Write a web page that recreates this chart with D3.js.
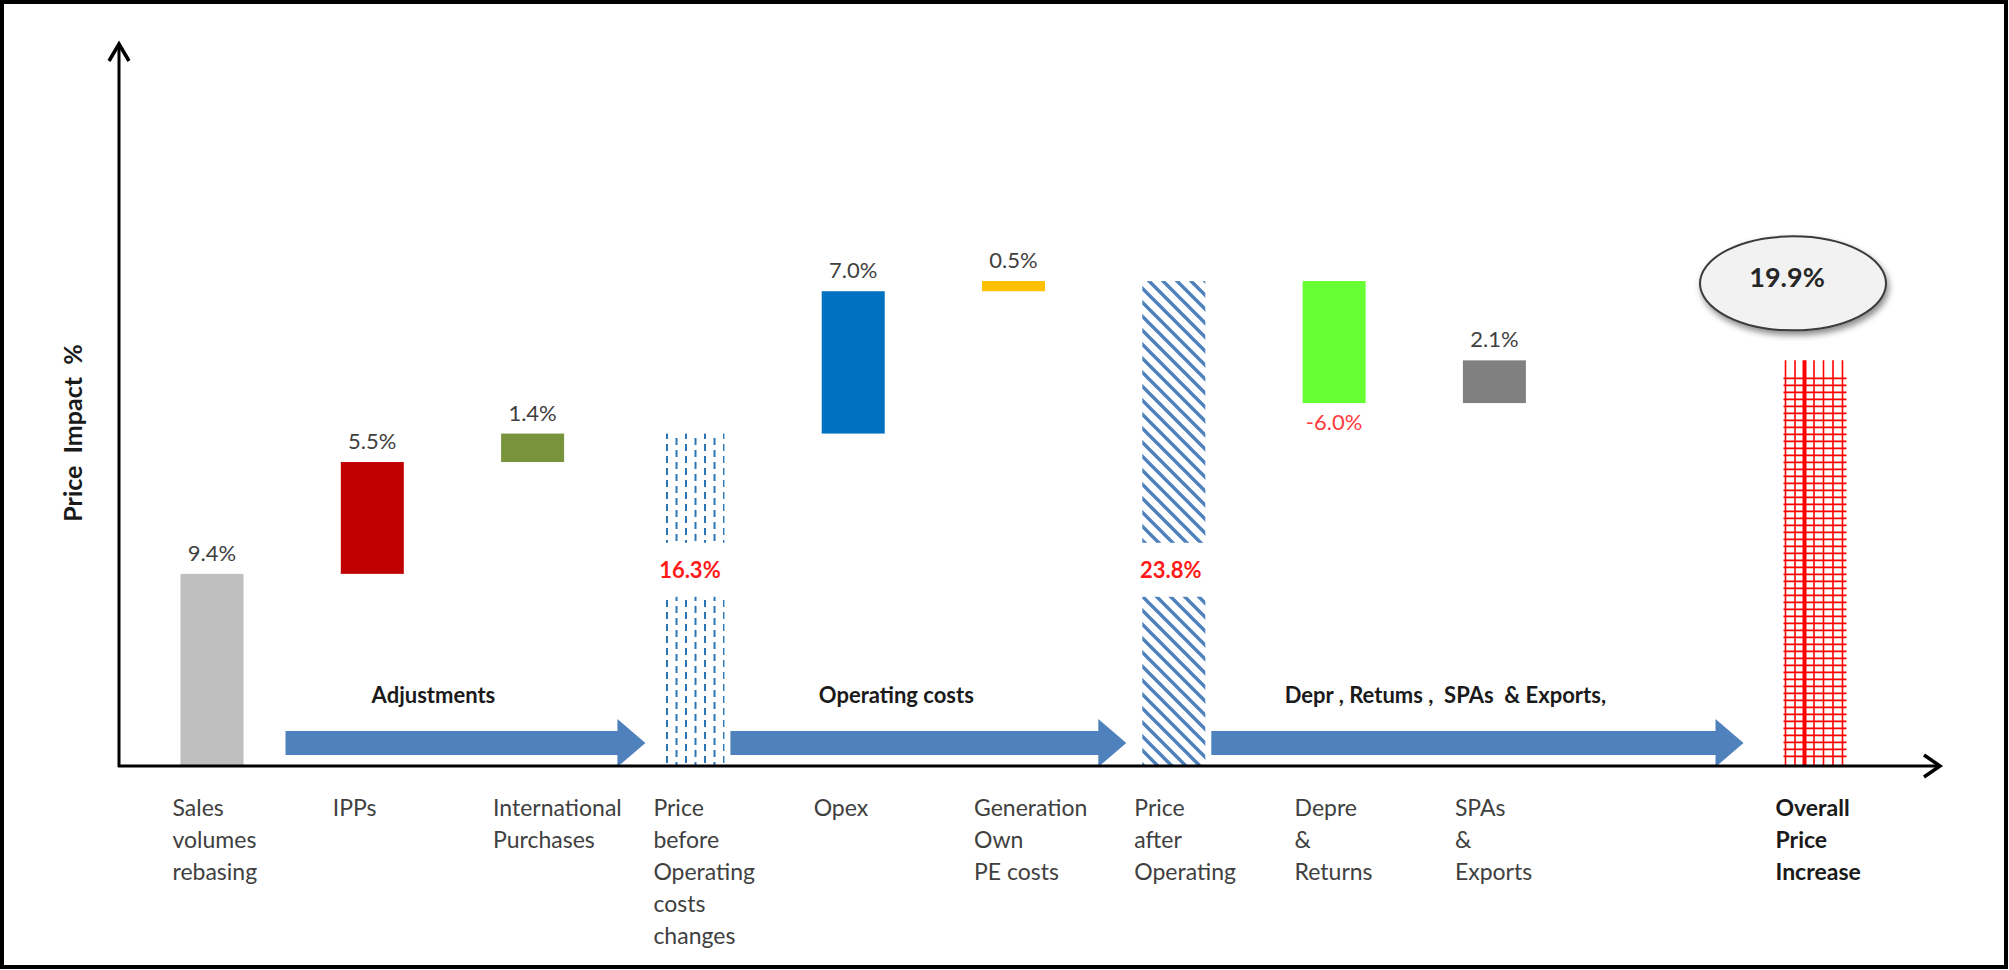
<!DOCTYPE html>
<html>
<head>
<meta charset="utf-8">
<script src="https://cdn.jsdelivr.net/npm/d3@7/dist/d3.min.js"></script>
<style>
body { margin: 0; background: #fff; }
text { font-family: Lato, "Open Sans", sans-serif; }
</style>
</head>
<body>
<svg id="svg"></svg>
<script>
var width = 2009, height = 970;

// chart data
var categories = [
	["Sales", "volumes", "rebasing"],
	["IPPs"],
	["International", "Purchases"],
	["Price", "before", "Operating", "costs", "changes"],
	["Opex"],
	["Generation", "Own", "PE costs"],
	["Price", "after", "Operating"],
	["Depre", "&", "Returns"],
	["SPAs", "&", "Exports"],
	["Overall", "Price", "Increase"]
];
var kinds = ["step", "step", "step", "subtotal", "step", "step", "subtotal", "step", "step", "total"];
var values = [9.4, 5.5, 1.4, null, 7.0, 0.5, null, -6.0, 2.1, null];
var fills = ["#bfbfbf", "#c00000", "#77933c", "url(#dashVert)", "#0070c0", "#ffc000", "url(#diagHatch)", "#66ff33", "#808080", "grid"];
var phases = [
	{ label: "Adjustments", from: 0, to: 3 },
	{ label: "Operating costs", from: 3, to: 6 },
	{ label: "Depr , Retums ,  SPAs  & Exports,", from: 6, to: 9 }
];
var labelLevel = 9.6;   // level where the subtotal labels sit

var svg = d3.select("#svg")
	.attr("width", width)
	.attr("height", height);

var fmt = function(v) { return v.toFixed(1) + "%"; };

// waterfall
var running = 0;
var bars = values.map(function(v, i)
{
	var b = { i: i, kind: kinds[i], fill: fills[i], lines: categories[i] };
	if (kinds[i] == "step") {
		b.y0 = running; b.y1 = running + v; b.v = v; running = b.y1;
	} else {
		b.y0 = 0; b.y1 = running; b.v = running;
	}
	return b;
});

// one empty slot before the total
var slot = function(i) { return i < 9 ? i : i + 1; };
var x = d3.scalePoint()
	.domain(d3.range(11))
	.range([212, 1815]);
var bw = 63;

var y = d3.scaleLinear()
	.domain([0, 30])
	.range([765, 155]);

var defs = svg.append("defs");

var p1 = defs.append("pattern").attr("id", "dashVert")
	.attr("patternUnits", "userSpaceOnUse")
	.attr("width", 19).attr("height", 12);
p1.append("rect").attr("x", 1).attr("y", 0).attr("width", 2).attr("height", 7).attr("fill", "#2e75b6");
p1.append("rect").attr("x", 10.5).attr("y", 6).attr("width", 2).attr("height", 6).attr("fill", "#2e75b6");
p1.append("rect").attr("x", 10.5).attr("y", 0).attr("width", 2).attr("height", 1).attr("fill", "#2e75b6");

var p2 = defs.append("pattern").attr("id", "diagHatch")
	.attr("patternUnits", "userSpaceOnUse")
	.attr("width", 14).attr("height", 14);
p2.append("path")
	.attr("d", "M-2,-2 L16,16 M-9,5 L5,19 M5,-9 L19,5")
	.attr("stroke", "#4f81bd")
	.attr("stroke-width", 3.4);

var shadow = defs.append("filter").attr("id", "shadow")
	.attr("x", "-20%").attr("y", "-20%").attr("width", "140%").attr("height", "150%");
shadow.append("feDropShadow")
	.attr("dx", 2).attr("dy", 4).attr("stdDeviation", 3)
	.attr("flood-color", "#000").attr("flood-opacity", 0.45);

// frame
svg.append("rect")
	.attr("x", 2).attr("y", 2)
	.attr("width", width - 5).attr("height", height - 5)
	.attr("fill", "none")
	.attr("stroke", "#000")
	.attr("stroke-width", 4);

// bars
var bar = svg.selectAll(".bar")
	.data(bars)
	.enter()
	.append("g")
	.attr("class", "bar");

bar.filter(function(d) { return d.fill != "grid"; })
	.append("rect")
	.attr("x", function(d) { return x(slot(d.i)) - bw / 2; })
	.attr("y", function(d) { return y(Math.max(d.y0, d.y1)); })
	.attr("width", bw)
	.attr("height", function(d) { return Math.abs(y(d.y0) - y(d.y1)); })
	.style("fill", function(d) { return d.fill; });

// gap in the subtotal bars for their label
var sub = bar.filter(function(d) { return d.kind == "subtotal"; });
sub.append("rect")
	.attr("x", function(d) { return x(slot(d.i)) - bw / 2 - 1; })
	.attr("y", y(labelLevel) - 27)
	.attr("width", bw + 2)
	.attr("height", 54)
	.style("fill", "#fff");
sub.append("text")
	.attr("x", function(d) { return x(slot(d.i)) - 3; })
	.attr("y", y(labelLevel) + 8)
	.attr("text-anchor", "middle")
	.style("font-size", "22px")
	.style("font-weight", "bold")
	.style("fill", "#ff1a1a")
	.text(function(d) { return fmt(d.v); });

// step labels
bar.filter(function(d) { return d.kind == "step"; })
	.append("text")
	.attr("x", function(d) { return x(slot(d.i)); })
	.attr("y", function(d) { return d.v >= 0 ? y(d.y1) - 13 : y(d.y1) + 27; })
	.attr("text-anchor", "middle")
	.style("font-size", "22px")
	.style("fill", function(d) { return d.v >= 0 ? "#404040" : "#ff3b3b"; })
	.text(function(d) { return fmt(d.v); });

// total: red grid bar
var tot = bars[9];
var tx0 = x(slot(9)) - bw / 2, tTop = y(tot.y1), tBot = y(0);
var grid = svg.append("g").attr("class", "grid");
grid.selectAll(".v")
	.data(d3.range(7))
	.enter()
	.append("line")
	.attr("x1", function(d) { return tx0 + 2 + d * 9.5; })
	.attr("x2", function(d) { return tx0 + 2 + d * 9.5; })
	.attr("y1", tTop)
	.attr("y2", tBot)
	.attr("stroke", "#ff0000")
	.attr("stroke-width", function(d) { return d == 2 ? 4 : 1.6; });
grid.selectAll(".h")
	.data(d3.range(tTop + 18, tBot - 6, 7))
	.enter()
	.append("line")
	.attr("x1", tx0)
	.attr("x2", tx0 + bw)
	.attr("y1", function(d) { return d; })
	.attr("y2", function(d) { return d; })
	.attr("stroke", "#ff0000")
	.attr("stroke-width", 1.6);

// total callout
var ex = x(slot(9)) - 22, ey = tTop - 77;
svg.append("ellipse")
	.attr("cx", ex).attr("cy", ey)
	.attr("rx", 93).attr("ry", 47)
	.attr("fill", "#f2f2f2")
	.attr("stroke", "#3a3a3a")
	.attr("stroke-width", 2)
	.attr("filter", "url(#shadow)");
svg.append("text")
	.attr("x", ex - 6).attr("y", ey + 4)
	.attr("text-anchor", "middle")
	.style("font-size", "27px")
	.style("font-weight", "bold")
	.style("fill", "#262626")
	.text(fmt(tot.v));

// phase arrows
var ay = 743;
var ends = function(d)
{
	var x0 = x(slot(d.from)) + bw / 2 + (d.from == 0 ? 42 : 6);
	var x1 = x(slot(d.to)) - bw / 2 - (d.to == 9 ? 40 : 16);
	return [x0, x1];
};
var arrow = svg.selectAll(".phase")
	.data(phases)
	.enter()
	.append("g")
	.attr("class", "phase");
arrow.append("path")
	.attr("d", function(d)
	{
		var e = ends(d), x0 = e[0], x1 = e[1];
		return "M" + x0 + "," + (ay - 12) + "L" + (x1 - 28) + "," + (ay - 12) +
			"L" + (x1 - 28) + "," + (ay - 24) + "L" + x1 + "," + ay +
			"L" + (x1 - 28) + "," + (ay + 24) + "L" + (x1 - 28) + "," + (ay + 12) +
			"L" + x0 + "," + (ay + 12) + "Z";
	})
	.attr("fill", "#4f81bd");
arrow.append("text")
	.attr("x", function(d) { var e = ends(d); return (e[0] + e[1]) / 2 - 32; })
	.attr("y", ay - 40)
	.attr("text-anchor", "middle")
	.style("font-size", "22px")
	.style("font-weight", "bold")
	.style("fill", "#1a1a1a")
	.style("white-space", "pre")
	.text(function(d) { return d.label; });

// axes (no ticks, arrow heads only)
var axisY = y(0) + 1;
svg.append("line")
	.attr("x1", 118).attr("x2", 1938)
	.attr("y1", axisY).attr("y2", axisY)
	.attr("stroke", "#000").attr("stroke-width", 3);
svg.append("path")
	.attr("d", "M1924," + (axisY - 11) + "L1940," + axisY + "L1924," + (axisY + 11))
	.attr("fill", "none").attr("stroke", "#000").attr("stroke-width", 3.5);
svg.append("line")
	.attr("x1", 119).attr("x2", 119)
	.attr("y1", axisY + 1).attr("y2", 46)
	.attr("stroke", "#000").attr("stroke-width", 3);
svg.append("path")
	.attr("d", "M109,61L119,44L129,61")
	.attr("fill", "none").attr("stroke", "#000").attr("stroke-width", 3.5);

svg.append("text")
	.attr("transform", "translate(82," + 433 + ") rotate(-90)")
	.attr("text-anchor", "middle")
	.style("font-size", "25px")
	.style("font-weight", "bold")
	.style("fill", "#1a1a1a")
	.style("white-space", "pre")
	.text("Price  Impact  %");

// category labels
var cat = svg.selectAll(".cat")
	.data(bars)
	.enter()
	.append("text")
	.attr("class", "cat")
	.attr("x", function(d) { return x(slot(d.i)) - bw / 2 - 8; })
	.attr("y", 816)
	.style("font-size", "23px")
	.style("font-weight", function(d) { return d.kind == "total" ? "bold" : "normal"; })
	.style("fill", function(d) { return d.kind == "total" ? "#1a1a1a" : "#404040"; });
cat.selectAll("tspan")
	.data(function(d) { return d.lines; })
	.enter()
	.append("tspan")
	.attr("x", function() { return d3.select(this.parentNode).attr("x"); })
	.attr("dy", function(d, i) { return i == 0 ? 0 : 32; })
	.text(function(d) { return d; });
</script>
</body>
</html>
